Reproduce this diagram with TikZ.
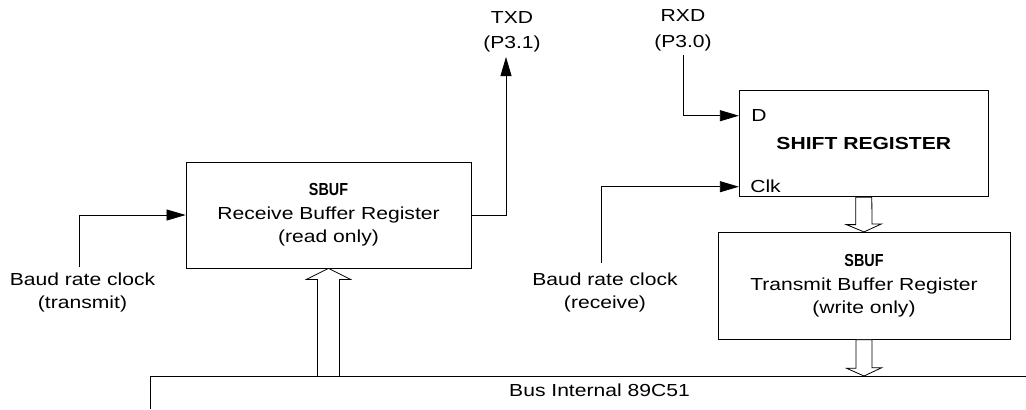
\documentclass[tikz,border=0pt]{standalone}
\usepackage{fontspec}
\setmainfont{Liberation Sans}[FakeStretch=1.21]
\usetikzlibrary{arrows.meta,calc}
\newcommand{\sbuftitle}{\scalebox{0.68}[1.0]{\bfseries SBUF}}

\begin{document}
\begin{tikzpicture}[x=1bp, y=-1bp, line width=0.8bp,
  reg/.style={draw, align=center, inner sep=0pt, font=\fontsize{17.5}{23.5}\selectfont},
  lbl/.style={align=center, inner sep=0pt, font=\fontsize{17.5}{23}\selectfont},
  pinlbl/.style={align=center, inner sep=0pt, font=\fontsize{17.5}{25.5}\selectfont},
  sig/.style={-{Triangle[length=19bp, width=11bp]}},
  hollow/.style={draw, fill=white, line join=miter}
]
\useasboundingbox (0,0) rectangle (1026,409);

% Internal bus
\coordinate (busL) at (150,376);
\coordinate (busR) at (1026,376);
\coordinate (busEnd) at (150,409);
\draw (busEnd) -- (busL) -- (busR);
\node[lbl] (bus) at (599.5,390) {Bus Internal 89C51};

% Receive buffer side
\node[reg, minimum width=285bp, minimum height=106bp] (rbuf) at (328.5,215) {\sbuftitle\\Receive Buffer Register\\(read only)};
\coordinate (txclk) at (79,267);
\node[lbl] (txclklbl) at (82.5,292.5) {Baud rate clock\\(transmit)};
\coordinate (txdpin) at (506,57);
\node[pinlbl] (txd) at (512,32) {TXD\\(P3.1)};

% Shift register
\node[draw, minimum width=249bp, minimum height=106bp, inner sep=0pt, font=\bfseries\fontsize{17.5}{23}\selectfont] (shift) at (863.8,143.7) {SHIFT REGISTER};
\coordinate (dpin) at ($(shift.west)+(0,-28)$);
\coordinate (clkpin) at ($(shift.west)+(0,43)$);
\node[lbl, anchor=west] (d) at ($(dpin)+(12,0)$) {D};
\node[lbl, anchor=west] (clk) at ($(clkpin)+(11,0)$) {Clk};
\coordinate (rxdpin) at (683,55);
\node[pinlbl] (rxd) at (683,30.5) {RXD\\(P3.0)};
\coordinate (rxclk) at (601,263);
\node[lbl] (rxclklbl) at (605,292.5) {Baud rate clock\\(receive)};

% Transmit buffer
\node[reg, minimum width=292bp, minimum height=107bp] (tbuf) at (864,285.8) {\sbuftitle\\Transmit Buffer Register\\(write only)};

% Signal lines
\draw[sig] (txclk) |- (rbuf.west);
\draw[sig] (rbuf.east) -| (txdpin);
\draw[sig] (rxdpin) |- (dpin);
\draw[sig] (rxclk) |- (clkpin);

% Bus transfer arrows
\draw[hollow] (rbuf.south) -- ++(22,11) -- ++(-11,0) -- ++(0,97) -- ++(-22,0) -- ++(0,-97) -- ++(-11,0) -- cycle;
\draw[hollow] ([xshift=-8bp]shift.south) -- ++(0,27.5) -- ++(-9.5,0) -- (tbuf.north) -- ++(17.5,-8) -- ++(-9.5,0) -- ([xshift=8bp]shift.south) -- cycle;
\draw[hollow] ([xshift=-8bp]tbuf.south) -- ++(0,28.5) -- ++(-9.5,0) -- (tbuf.south |- busL) -- ++(17.5,-8.2) -- ++(-9.5,0) -- ([xshift=8bp]tbuf.south) -- cycle;

\end{tikzpicture}
\end{document}
